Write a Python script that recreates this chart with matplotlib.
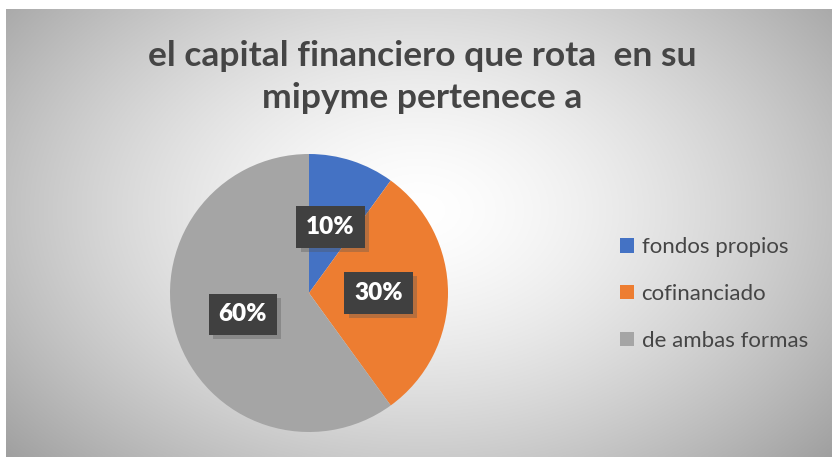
import numpy as np
import matplotlib.pyplot as plt
import matplotlib.patheffects as pe

categories = ["fondos propios", "cofinanciado", "de ambas formas"]
values = [10, 30, 60]
colors = ["#4472C4", "#ED7D31", "#A5A5A5"]
title = "el capital financiero que rota  en su\nmipyme pertenece a"

W, H = 832, 457
fig = plt.figure(figsize=(W / 100, H / 100), dpi=100)

# radial gradient background (chart area)
bg = fig.add_axes([6 / W, 0, 1 - 6 / W, 1 - 9 / H])
yy, xx = np.mgrid[0:1:300j, 0:1:500j]
r = np.sqrt(((xx - 0.5) / 0.6) ** 2 + ((yy - 0.55) / 0.75) ** 2)
g = np.clip(1.0 - 0.32 * r ** 1.5, 0, 1)
bg.imshow(np.dstack([g, g, g]), aspect="auto", extent=[0, 1, 0, 1], origin="lower")
bg.set_axis_off()

fig.text(422 / W, 1 - 77 / H, title, ha="center", va="center", fontsize=25.5,
         fontweight="bold", color="#454545", family="Lato", linespacing=1.42)

# pie
cx, cy, rad = 309, 457 - 293, 139
ax = fig.add_axes([(cx - rad) / W, (cy - rad) / H, 2 * rad / W, 2 * rad / H])
wedges, texts, autotexts = ax.pie(values, colors=colors, startangle=90, counterclock=False,
                                  autopct="%d%%", pctdistance=0.5,
                                  wedgeprops=dict(linewidth=0))
ax.set_xlim(-1, 1)
ax.set_ylim(-1, 1)
ax.set_aspect("equal")
for t in autotexts:
    t.set_color("white")
    t.set_fontsize(17.5)
    t.set_fontweight("heavy")
    t.set_family("Lato")
    t.set_bbox(dict(boxstyle="square,pad=0.4", facecolor="#404040", edgecolor="none"))
    t.get_bbox_patch().set_path_effects([
        pe.SimplePatchShadow(offset=(3, -3), shadow_rgbFace="#555555", alpha=0.35),
        pe.Normal()])

# legend
leg = fig.legend(wedges, categories, loc="center left", bbox_to_anchor=(600 / W, 1 - 294 / H),
                 frameon=False, handlelength=0.62, handleheight=0.62,
                 handletextpad=0.35, labelspacing=1.2, labelcolor="#454545",
                 prop=dict(family="Lato", size=16))

fig.savefig("out.png", dpi=100)
